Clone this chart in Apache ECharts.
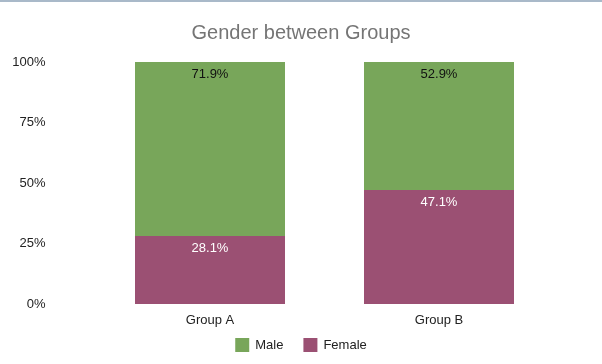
<!DOCTYPE html>
<html>
<head>
<meta charset="utf-8">
<script src="https://cdn.jsdelivr.net/npm/echarts@6/dist/echarts.min.js"></script>
<style>
html,body{margin:0;padding:0;background:#fff;}
#top{position:absolute;left:0;top:0;width:602px;height:2px;background:#a9b9c9;}
#c{width:602px;height:364px;}
</style>
</head>
<body>
<div id="c"></div>
<div id="top"></div>
<script>
const categories = ['Group A', 'Group B'];
const male = [71.9, 52.9];
const female = [28.1, 47.1];
const yTicks = [0, 25, 50, 75, 100];

const chart = echarts.init(document.getElementById('c'));
const font = 'Helvetica, Arial, "Liberation Sans", sans-serif';
chart.setOption({
  animation: false,
  title: {
    text: 'Gender between Groups',
    left: 'center', top: 18,
    textStyle: {fontFamily: font, fontSize: 20, fontWeight: 'normal', color: '#757575'}
  },
  legend: {
    data: ['Male', 'Female'],
    bottom: 7, left: 'center',
    itemWidth: 14, itemHeight: 14, itemGap: 20,
    icon: 'rect',
    textStyle: {fontFamily: font, fontSize: 13, color: '#222', padding: [0, 0, 0, 1]}
  },
  grid: {left: 95.5, right: 48.5, top: 62, bottom: 60},
  xAxis: {
    type: 'category', data: categories,
    axisLine: {show: false}, axisTick: {show: false},
    axisLabel: {fontFamily: font, fontSize: 13, color: '#222', margin: 10}
  },
  yAxis: {
    type: 'value', min: 0, max: 100, interval: 25,
    splitLine: {show: false}, axisLine: {show: false}, axisTick: {show: false},
    axisLabel: {fontFamily: font, fontSize: 13, color: '#222', margin: 50,
      formatter: v => yTicks.includes(v) ? v + '%' : ''}
  },
  series: [
    {
      name: 'Female', type: 'bar', stack: 'g', barWidth: 150,
      data: female,
      itemStyle: {color: '#9b5073'},
      label: {show: true, position: 'insideTop', distance: 6, color: '#fff',
        fontFamily: font, fontSize: 13, formatter: p => p.value.toFixed(1) + '%'}
    },
    {
      name: 'Male', type: 'bar', stack: 'g', barWidth: 150,
      data: male,
      itemStyle: {color: '#78a65a'},
      label: {show: true, position: 'insideTop', distance: 6, color: '#111',
        fontFamily: font, fontSize: 13, formatter: p => p.value.toFixed(1) + '%'}
    }
  ]
});
</script>
</body>
</html>
